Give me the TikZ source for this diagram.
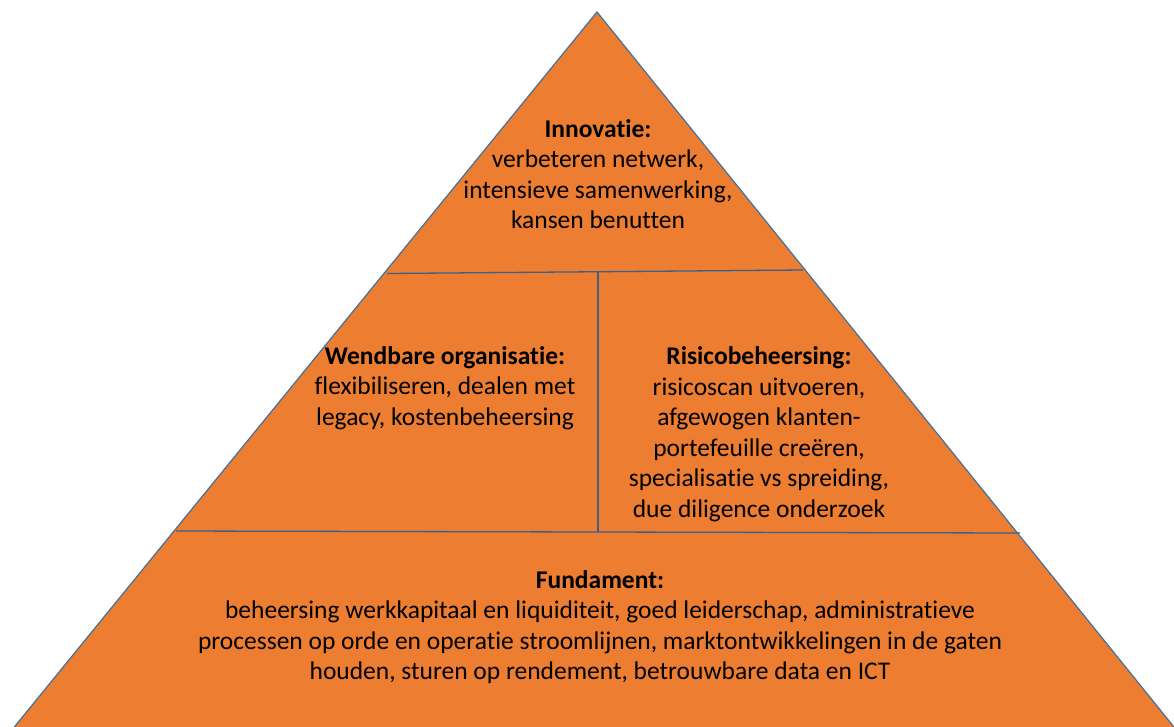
\documentclass[tikz,border=0pt]{standalone}
\usepackage{fontspec}
\setmainfont[RawFeature={-liga}]{Carlito}
\definecolor{pyrorange}{HTML}{ED7D31}
\definecolor{pyredge}{HTML}{41719C}
\definecolor{pyrline}{HTML}{3A5F8A}
\begin{document}
\begin{tikzpicture}[x=1pt,y=-1pt,
  label text/.style={align=center,font=\fontsize{25.5}{30.5}\selectfont,text=black,inner sep=0pt},
  divider/.style={draw=pyrline,line width=1.3pt}]
\useasboundingbox (0,0) rectangle (1174,726);
\clip (0,0) rectangle (1174,726);
\coordinate (apex) at (597,12);
\coordinate (bl) at (-12.6,760);
\coordinate (br) at (1200.6,760);
\fill[pyrorange] (apex) -- (br) -- (bl) -- cycle;
\draw[pyredge,line width=1.2pt] (bl) -- (apex) -- (br);
\coordinate (l1a) at (387,273.5);
\coordinate (l1b) at (803,270);
\coordinate (l2a) at (176,531);
\coordinate (l2b) at (1020,533);
\coordinate (va) at (598,272);
\coordinate (vb) at (598,531.5);
\draw[divider] (l1a) -- (l1b);
\draw[divider] (l2a) -- (l2b);
\draw[pyrline,line width=1.1pt] (va) -- (vb);
\node[label text] (inno) at (598,174) {\textbf{Innovatie:}\\verbeteren netwerk,\\intensieve samenwerking,\\kansen benutten};
\node[label text] (wend) at (445,388) {\textbf{Wendbare organisatie:}\\flexibiliseren, dealen met\\legacy, kostenbeheersing};
\node[label text] (risk) at (759,434) {\textbf{Risicobeheersing:}\\risicoscan uitvoeren,\\afgewogen klanten-\\portefeuille creëren,\\specialisatie vs spreiding,\\due diligence onderzoek};
\node[label text] (fund) at (600,627) {\textbf{Fundament:}\\beheersing werkkapitaal en liquiditeit, goed leiderschap, administratieve\\processen op orde en operatie stroomlijnen, marktontwikkelingen in de gaten\\houden, sturen op rendement, betrouwbare data en ICT};
\end{tikzpicture}
\end{document}
